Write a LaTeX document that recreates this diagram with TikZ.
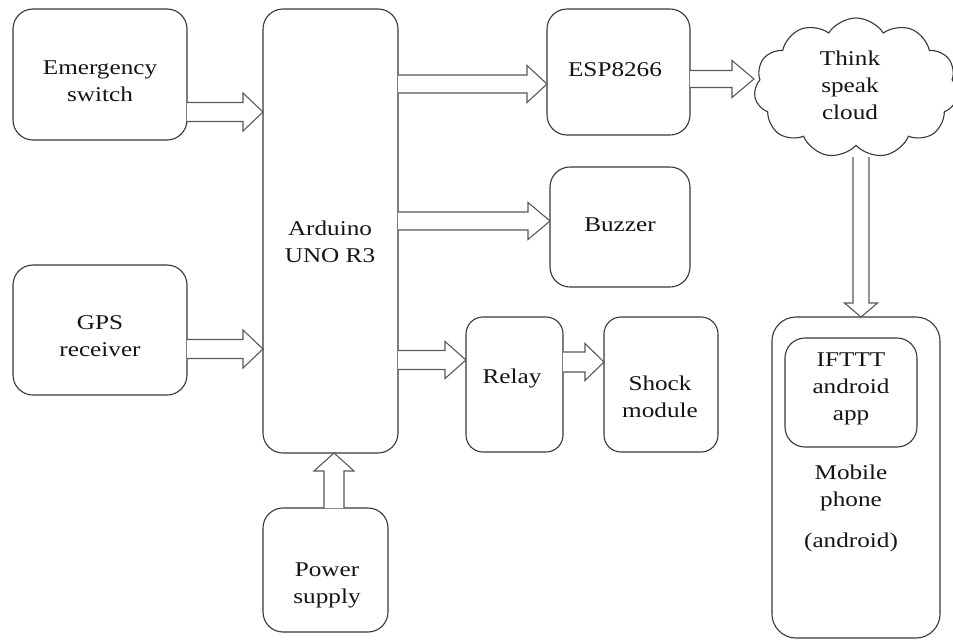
\documentclass[tikz,border=0pt]{standalone}
\usepackage{fontspec}
\setmainfont{Liberation Serif}
\usetikzlibrary{calc,shapes.symbols}
\newcommand{\blkarrow}[5]{%
  \coordinate (hb) at ($(#2)!#5!(#1)$);
  \draw[blockarr] ($(#1)!#3!90:(#2)$) -- ($(hb)!#3!90:(#2)$) -- ($(hb)!#4!90:(#2)$) -- (#2)
    -- ($(hb)!#4!-90:(#2)$) -- ($(hb)!#3!-90:(#2)$) -- ($(#1)!#3!-90:(#2)$);}
\tikzset{
  box/.style={draw=black!78, line width=1.1pt, rounded corners=20pt, inner sep=0pt, outer sep=0pt},
  lbl/.style={font=\fontsize{21}{27}\selectfont, align=center, inner sep=0pt, text=black!92, xscale=1.2},
  blockarr/.style={draw=black!65, line width=1.1pt, fill=white, line join=miter}
}
\begin{document}
\begin{tikzpicture}[x=1pt,y=-1pt]
\useasboundingbox[fill=white] (0,0) rectangle (953,643);
% boxes
\node[box, minimum width=174, minimum height=131] (emg) at (100,74.5) {};
\node[box, minimum width=174, minimum height=130] (gps) at (100,330) {};
\node[box, minimum width=135, minimum height=444] (ard) at (330.5,231) {};
\node[box, minimum width=143, minimum height=126] (esp) at (618.5,72) {};
\node[box, minimum width=140, minimum height=120] (buz) at (620,227) {};
\node[box, rounded corners=17pt, minimum width=97, minimum height=135] (rel) at (514.5,384.5) {};
\node[box, rounded corners=17pt, minimum width=114, minimum height=135] (sho) at (661,384.5) {};
\node[box, minimum width=125, minimum height=124] (pow) at (325.5,570) {};
\node[box, rounded corners=24pt, minimum width=168, minimum height=321] (mob) at (856,477.5) {};
\node[box, minimum width=132, minimum height=109] (ift) at (851,392.5) {};
\node[cloud, draw=black!78, line width=1.1pt, cloud puffs=11, cloud puff arc=115, aspect=1.45,
      minimum width=204, minimum height=140, inner sep=0pt] (cld) at (856,88) {};
% texts
\node[lbl] (temg) at (100,81) {Emergency\\switch};
\node[lbl] (tgps) at (100,336) {GPS\\receiver};
\node[lbl] (tard) at (330,242) {Arduino\\UNO R3};
\node[lbl, anchor=base] (tesp) at (615,76) {ESP8266};
\node[lbl, anchor=base] (tbuz) at (620,231) {Buzzer};
\node[lbl, anchor=base] (trel) at (512,383) {Relay};
\node[lbl] (tsho) at (660,396.5) {Shock\\module};
\node[lbl] (tpow) at (327,585.5) {Power\\supply};
\node[lbl] (tcld) at (850,85) {Think\\speak\\cloud};
\node[lbl] (tift) at (851,389) {IFTTT\\android\\app};
\node[lbl] (tmob) at (851,508) {Mobile\\phone\\[14pt](android)};
% arrow end points
\coordinate (a1s) at (emg.east |- 0,112);  \coordinate (a1t) at (ard.west |- 0,112);
\coordinate (a2s) at (gps.east |- 0,349);  \coordinate (a2t) at (ard.west |- 0,349);
\coordinate (a3s) at (ard.east |- 0,84);   \coordinate (a3t) at (esp.west |- 0,84);
\coordinate (a4s) at (esp.east |- 0,79);   \coordinate (a4t) at (754,79);
\coordinate (a5s) at (ard.east |- 0,221);  \coordinate (a5t) at (buz.west |- 0,221);
\coordinate (a6s) at (ard.east |- 0,360);  \coordinate (a6t) at (rel.west |- 0,360);
\coordinate (a7s) at (rel.east |- 0,362);  \coordinate (a7t) at (sho.west |- 0,362);
\coordinate (a8s) at (pow.north -| 334,0); \coordinate (a8t) at (ard.south -| 334,0);
\coordinate (a9s) at (861,157);            \coordinate (a9t) at (mob.north -| 861,0);
% arrows
\blkarrow{a1s}{a1t}{9.5pt}{19pt}{20pt}
\blkarrow{a2s}{a2t}{9.5pt}{19pt}{20pt}
\blkarrow{a3s}{a3t}{9pt}{18.5pt}{20pt}
\blkarrow{a4s}{a4t}{8.5pt}{18.5pt}{22pt}
\blkarrow{a5s}{a5t}{9pt}{18.5pt}{22pt}
\blkarrow{a6s}{a6t}{9.5pt}{18.5pt}{21pt}
\blkarrow{a7s}{a7t}{10pt}{18.5pt}{19pt}
\blkarrow{a8s}{a8t}{10pt}{20pt}{18pt}
\blkarrow{a9s}{a9t}{8pt}{16.5pt}{14pt}
\end{tikzpicture}
\end{document}
